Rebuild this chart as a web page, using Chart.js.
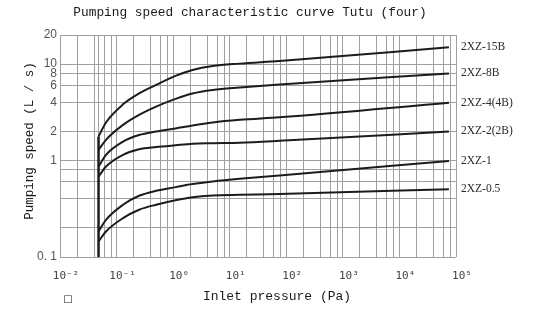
<!DOCTYPE html>
<html>
<head>
<meta charset="utf-8">
<script src="https://cdn.jsdelivr.net/npm/chart.js@4.4.1/dist/chart.umd.min.js"></script>
<style>
  html, body { margin: 0; padding: 0; background: #fff; }
  #wrap { width: 542px; height: 322px; }
</style>
</head>
<body>
<div id="wrap"><canvas id="chart" width="542" height="322"></canvas></div>
<script>
  // 入口压力 (Pa) 采样点
  const PRESSURE = [0.048, 0.065, 0.13, 0.25, 0.5, 1.1, 2.2, 5, 15, 76, 75000];

  // 各型号抽速 (L/s)
  const MODELS = ['2XZ-15B', '2XZ-8B', '2XZ-4(4B)', '2XZ-2(2B)', '2XZ-1', '2XZ-0.5'];
  const SPEED_15B = [1.77, 2.48, 3.82, 4.96, 6.07, 7.53, 8.68, 9.55, 10.1, 10.76, 14.9];
  const SPEED_8B  = [1.29, 1.64, 2.34, 2.97, 3.62, 4.35, 4.96, 5.39, 5.72, 6.15, 8.0];
  const SPEED_4B  = [0.866, 1.145, 1.57, 1.84, 2.0, 2.15, 2.31, 2.48, 2.64, 2.81, 3.98];
  const SPEED_2B  = [0.68, 0.866, 1.145, 1.31, 1.38, 1.44, 1.49, 1.51, 1.53, 1.6, 2.0];
  const SPEED_1   = [0.184, 0.243, 0.348, 0.431, 0.486, 0.53, 0.57, 0.606, 0.646, 0.699, 0.99];
  const SPEED_05  = [0.145, 0.184, 0.253, 0.309, 0.348, 0.387, 0.416, 0.434, 0.441, 0.449, 0.505];

  // 起始竖线 (极限压力处)
  const START_LINE_Y = [0.1, 1.77];

  // 坐标网格与刻度
  const X_GRID = [0.01, 0.02, 0.04, 0.048, 0.06, 0.08,
                  0.1, 0.2, 0.4, 0.6, 0.8,
                  1, 2, 4, 6, 8,
                  10, 20, 40, 60, 80,
                  100, 200, 400, 600, 800,
                  1000, 2000, 4000, 6000, 8000,
                  10000, 20000, 40000, 60000, 80000,
                  100000];
  const X_LABEL_VALUES = [0.01, 0.1, 1, 10, 100, 1000, 10000, 100000];
  const X_LABEL_TEXT = ['10⁻²', '10⁻¹', '10⁰', '10¹', '10²', '10³', '10⁴', '10⁵'];
  const Y_GRID = [0.1, 0.2, 0.4, 0.6, 0.8, 1, 2, 4, 6, 8, 10, 20];
  const Y_LABEL_VALUES = [0.1, 1, 2, 4, 6, 8, 10, 20];
  const Y_LABEL_TEXT = ['0. 1', '1', '2', '4', '6', '8', '10', '20'];

  const LINE_COLOR = '#1c1c1c';
  const GRID_COLOR = '#a0a0a0';
  const MONO = '"Liberation Mono", "DejaVu Sans Mono", monospace';

  const series = [SPEED_15B, SPEED_8B, SPEED_4B, SPEED_2B, SPEED_1, SPEED_05];

  const datasets = series.map((s, i) => ({
    label: MODELS[i],
    data: s.map((v, j) => ({ x: PRESSURE[j], y: v })),
    borderColor: LINE_COLOR,
    borderWidth: 2,
    pointRadius: 0,
    cubicInterpolationMode: 'monotone',
    fill: false,
  }));
  datasets.push({
    label: 'start',
    data: START_LINE_Y.map(v => ({ x: PRESSURE[0], y: v })),
    borderColor: LINE_COLOR,
    borderWidth: 2.5,
    pointRadius: 0,
    tension: 0,
    fill: false,
  });

  // 标题、坐标轴名称、曲线型号标注
  const textPlugin = {
    id: 'textPlugin',
    afterDraw(chart) {
      const { ctx, chartArea, scales } = chart;
      ctx.save();
      ctx.fillStyle = '#1a1a1a';
      ctx.textBaseline = 'middle';

      ctx.font = '12.8px ' + MONO;
      ctx.textAlign = 'center';
      ctx.fillText('Pumping speed characteristic curve Tutu (four)', 250, 13);

      ctx.font = '13px ' + MONO;
      ctx.fillText('Inlet pressure (Pa)', 277, 297);

      ctx.save();
      ctx.translate(30, 141);
      ctx.rotate(-Math.PI / 2);
      ctx.font = '12.5px ' + MONO;
      ctx.fillText('Pumping speed (L / s)', 0, 0);
      ctx.restore();

      ctx.font = '10px "DejaVu Sans"';
      ctx.fillText('□', 68, 299);

      ctx.font = '11.5px "Liberation Serif", serif';
      ctx.textAlign = 'left';
      ctx.fillStyle = '#2a2a2a';
      series.forEach((s, i) => {
        const y = scales.y.getPixelForValue(s[s.length - 1]);
        ctx.fillText(MODELS[i], chartArea.right + 5, y);
      });
      ctx.restore();
    }
  };

  new Chart(document.getElementById('chart'), {
    type: 'line',
    data: { datasets },
    options: {
      responsive: false,
      animation: false,
      devicePixelRatio: 1,
      layout: { padding: { top: 35, right: 86, left: 0, bottom: 0 } },
      plugins: {
        legend: { display: false },
        tooltip: { enabled: false },
      },
      scales: {
        x: {
          type: 'logarithmic',
          min: 0.01,
          max: 100000,
          afterBuildTicks: (axis) => { axis.ticks = X_GRID.map(v => ({ value: v })); },
          afterFit: (axis) => { axis.height = 65; },
          grid: { color: GRID_COLOR, lineWidth: 1, drawTicks: false },
          border: { display: false },
          ticks: {
            autoSkip: false,
            maxRotation: 0,
            padding: 13,
            labelOffset: 6,
            color: '#444',
            font: { family: '"DejaVu Sans Mono", monospace', size: 11 },
            callback: (value) => {
              const i = X_LABEL_VALUES.indexOf(value);
              return i >= 0 ? X_LABEL_TEXT[i] : '';
            },
          },
        },
        y: {
          type: 'logarithmic',
          min: 0.1,
          max: 20,
          afterBuildTicks: (axis) => { axis.ticks = Y_GRID.map(v => ({ value: v })); },
          afterFit: (axis) => { axis.width = 60; },
          grid: { color: GRID_COLOR, lineWidth: 1, drawTicks: false },
          border: { display: false },
          ticks: {
            autoSkip: false,
            padding: 3,
            color: '#555',
            font: { family: '"Liberation Sans", Arial, sans-serif', size: 12 },
            callback: (value) => {
              const i = Y_LABEL_VALUES.indexOf(value);
              return i >= 0 ? Y_LABEL_TEXT[i] : '';
            },
          },
        },
      },
    },
    plugins: [textPlugin],
  });
</script>
</body>
</html>
